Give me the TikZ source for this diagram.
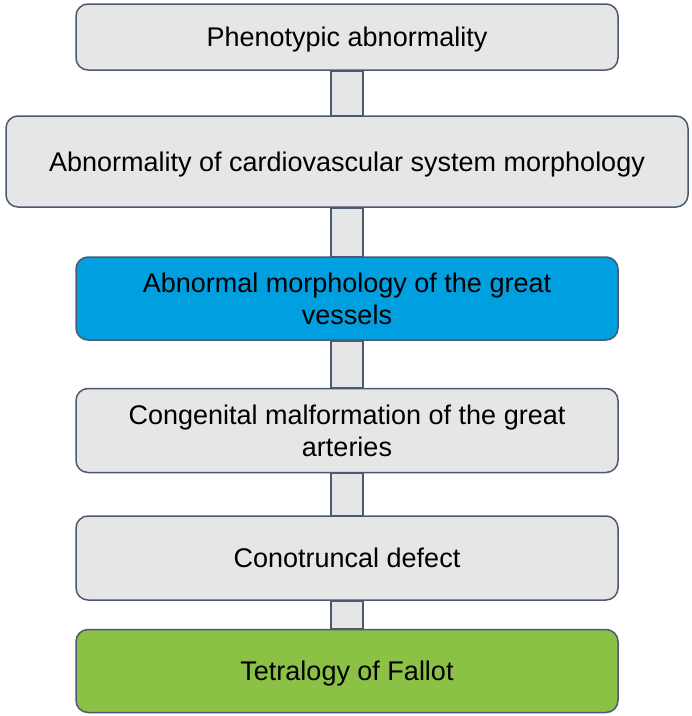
\documentclass[tikz,border=0pt]{standalone}
\usepackage{fontspec}
\setmainfont{Liberation Sans}
\usetikzlibrary{backgrounds}
\definecolor{edge}{HTML}{4B5A70}
\definecolor{greyfill}{HTML}{E6E6E6}
\definecolor{bluefill}{HTML}{009FE0}
\definecolor{greenfill}{HTML}{8BC145}
\tikzset{
  box/.style={draw=edge, line width=1.5pt, fill=greyfill, rounded corners=12pt,
    minimum width=542pt, align=center, inner sep=0pt,
    font=\fontsize{27}{32}\selectfont, text=black},
  oneline/.style={text depth=0pt},
  bar/.style={draw=edge, line width=1.5pt, fill=greyfill},
}
\begin{document}
\begin{tikzpicture}[x=1pt,y=-1pt]
\useasboundingbox (0,0) rectangle (692,716);
\node[box, oneline, minimum height=66pt] (n1) at (347,37) {Phenotypic abnormality};
\node[box, oneline, minimum width=682pt, minimum height=91pt] (n2) at (347,161.5) {Abnormality of cardiovascular system morphology};
\node[box, fill=bluefill, minimum height=83pt] (n3) at (347,298.5) {Abnormal morphology of the great\\vessels};
\node[box, minimum height=84pt] (n4) at (347,430.5) {Congenital malformation of the great\\arteries};
\node[box, oneline, minimum height=84pt] (n5) at (347,558) {Conotruncal defect};
\node[box, oneline, fill=greenfill, minimum height=83pt] (n6) at (347,671) {Tetralogy of Fallot};
\begin{scope}[on background layer]
\foreach \a/\b in {n1/n2,n2/n3,n3/n4,n4/n5,n5/n6}{
  \draw[bar] ([xshift=-16pt]\a.south) rectangle ([xshift=16pt]\b.north);
}
\end{scope}
\end{tikzpicture}
\end{document}
